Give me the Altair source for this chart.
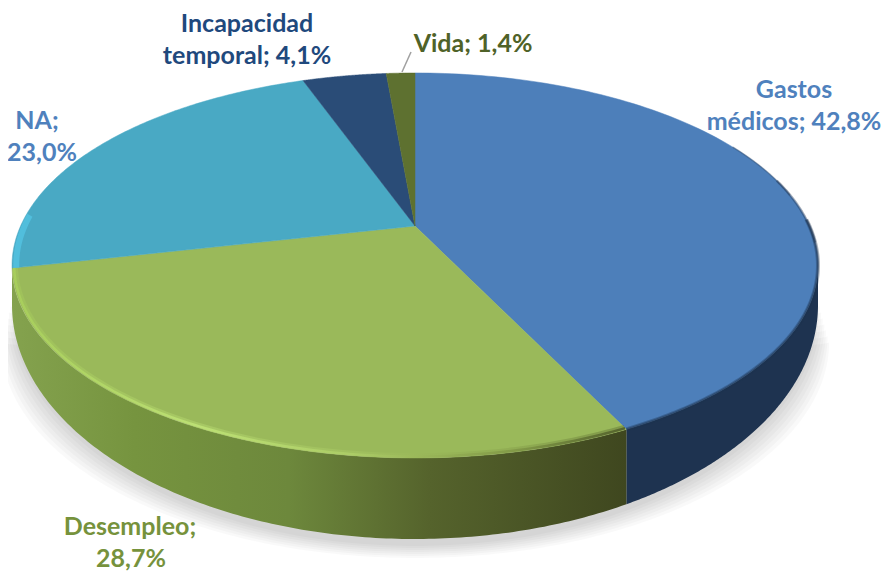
import math
import altair as alt
import pandas as pd

categories = ["Gastos médicos", "Desempleo", "NA", "Incapacidad temporal", "Vida"]
shares = [42.8, 28.7, 23.0, 4.1, 1.4]
top_colors = ["#4d7fba", "#9ab95a", "#49a9c4", "#2a4c77", "#5e7130"]

label_lines = ["Gastos", "médicos; 42,8%", "Desempleo;", "28,7%", "NA;", "23,0%",
               "Incapacidad", "temporal; 4,1%", "Vida; 1,4%"]
label_x = [794, 794, 130, 131, 37, 42, 247, 247, 473]
label_y = [98, 130, 535, 567, 129, 161, 32, 64, 52]
label_colors = ["#4f81bd", "#4f81bd", "#76923c", "#76923c", "#4f81bd", "#4f81bd",
                "#1f497d", "#1f497d", "#4f6228"]

# projection of the tilted disc onto the page
APEX_X, APEX_Y = 415, 226
A, B, K = 394.4, 184.4, 0.205
TOP_CX, TOP_CY, RX, TOP_RY = 415, 265.5, 403, 192.5
BOT_CY, BOT_RY = 305, 234

xs = alt.Scale(domain=[8, 882], range=[0, 874])
ys = alt.Scale(domain=[8, 571], range=[0, 563])
X = alt.X("x:Q", scale=xs, axis=None)
Y = alt.Y("y:Q", scale=ys, axis=None)
Y2 = alt.Y2("y2:Q")


def project(theta_deg, r=1.0):
    t = math.radians(theta_deg)
    px, py = r * math.sin(t), -r * math.cos(t)
    d = 1 - K * py
    return APEX_X + A * px / d, APEX_Y + B * py / d


def grad(stops):
    return alt.Gradient(
        gradient="linear", x1=0, x2=1, y1=0, y2=0,
        stops=[alt.GradientStop(offset=o, color=c) for o, c in stops],
    )


def angle_range(a, b, n=120):
    return [a + (b - a) * i / n for i in range(n + 1)]


cum = [0]
for s in shares:
    cum.append(cum[-1] + s)
angles = [c * 3.6 for c in cum]

layers = []

# soft shadow under the pie
for d in range(1, 8):
    rows = []
    for i in range(161):
        phi = math.pi * i / 160
        start = 300 + 6 * d
        rows.append({
            "x": TOP_CX + (RX + 1.6 * d) * math.cos(phi),
            "y": start + 10 * math.sin(phi),
            "y2": start + (310 - start + BOT_RY + 2 * d) * math.sin(phi),
        })
    layers.append(
        alt.Chart(pd.DataFrame(rows)).mark_area(color="#000000", opacity=0.022)
        .encode(x=X, y=Y, y2=Y2)
    )


def side(phi_from, phi_to, fill):
    rows = []
    for i in range(161):
        phi = phi_from + (phi_to - phi_from) * i / 160
        rows.append({
            "x": TOP_CX + RX * math.cos(phi),
            "y": TOP_CY + TOP_RY * math.sin(phi),
            "y2": BOT_CY + BOT_RY * math.sin(phi),
        })
    return alt.Chart(pd.DataFrame(rows)).mark_area(fill=fill, stroke=None).encode(x=X, y=Y, y2=Y2)


cx_corner, _ = project(angles[1])
phi_corner = math.acos((cx_corner - TOP_CX) / RX)
layers.append(side(0, phi_corner, "#1e3350"))
layers.append(side(phi_corner, math.pi, grad([
    (0, "#84a24e"), (0.2, "#76943f"), (0.45, "#6d883c"), (0.68, "#55632c"), (1, "#3f471f"),
])))

# top faces
for i, col in enumerate(top_colors):
    pts = [(APEX_X, APEX_Y)] + [project(a) for a in angle_range(angles[i], angles[i + 1])] + [(APEX_X, APEX_Y)]
    df = pd.DataFrame({"x": [p[0] for p in pts], "y": [p[1] for p in pts], "i": range(len(pts))})
    layers.append(
        alt.Chart(df).mark_line(fill=col, stroke=col, strokeWidth=0.5, interpolate="linear")
        .encode(x=X, y=Y, order=alt.Order("i:Q"))
    )


def rim(a, b, r, stroke, width, opacity=1.0):
    pts = [project(t, r) for t in angle_range(a, b)]
    df = pd.DataFrame({"x": [p[0] for p in pts], "y": [p[1] for p in pts], "i": range(len(pts))})
    return alt.Chart(df).mark_line(stroke=stroke, strokeWidth=width, opacity=opacity).encode(
        x=X, y=Y, order=alt.Order("i:Q"))


# bevel highlights along the rim (gradient runs left to right across the arc)
green_rim = grad([(0, "#a9d05c"), (0.3, "#c0e477"), (0.55, "#aecf68"), (0.82, "#7f9645"), (1, "#4d5a28")])
layers.append(rim(angles[1], angles[2], 0.992, green_rim, 5, 0.35))
layers.append(rim(angles[1], angles[2], 0.995, green_rim, 2.5, 0.85))
layers.append(rim(62, 80, 1.0, "#1e3350", 1.5, 0.35))
layers.append(rim(75, 95, 1.0, "#1e3350", 2.5, 0.4))
layers.append(rim(88, angles[1], 1.0, "#1e3350", 4, 0.35))
layers.append(rim(88, angles[1], 1.0, "#1e3350", 2, 0.5))
layers.append(rim(angles[2], angles[2] + 16, 0.99, "#52c0df", 6, 0.9))

# leader line for Vida
leader = pd.DataFrame({"x": [402, 411], "y": [72, 52]})
layers.append(alt.Chart(leader).mark_line(stroke="#a0a0a0", strokeWidth=1.5).encode(x=X, y=Y))

# labels
labels = pd.DataFrame({"x": label_x, "y": label_y, "t": label_lines, "c": label_colors})
layers.append(
    alt.Chart(labels).mark_text(font="Lato", fontWeight="bold", fontSize=25, align="center", baseline="alphabetic")
    .encode(x=X, y=Y, text="t:N", color=alt.Color("c:N", scale=None, legend=None))
)

chart = alt.layer(*layers).properties(
    width=874, height=563, padding=0,
    autosize=alt.AutoSizeParams(type="none"),
    background="white",
).configure_view(stroke=None)

chart.save("out.html", embed_options={"renderer": "svg", "actions": False})
